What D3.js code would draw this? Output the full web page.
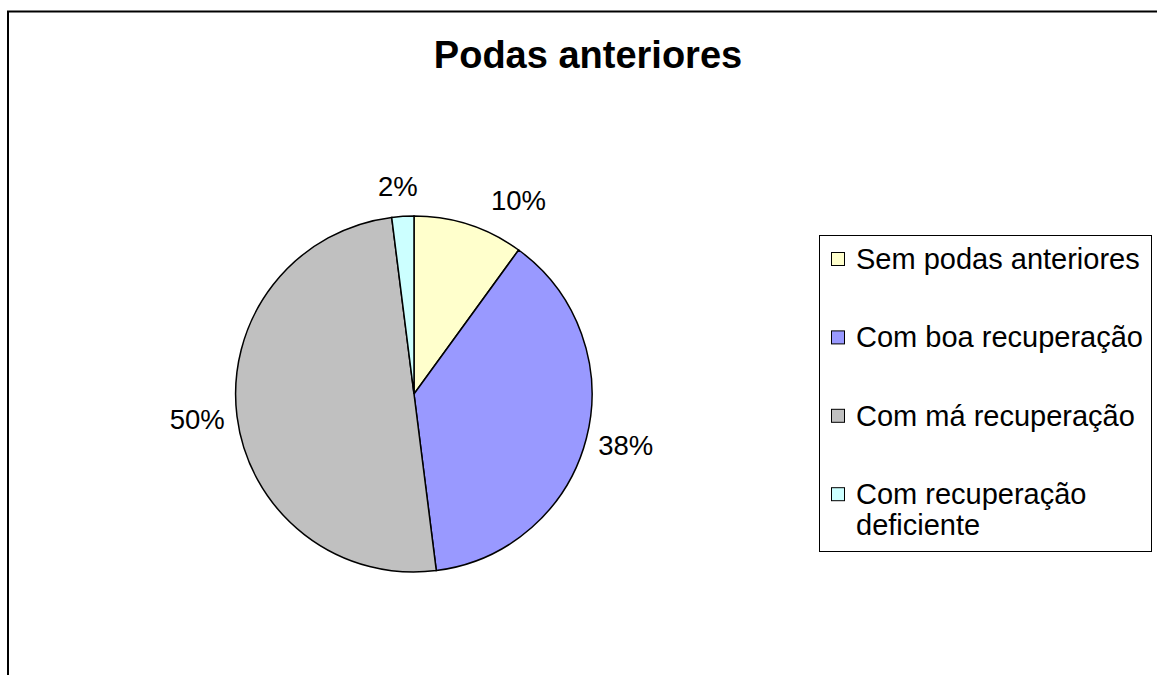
<!DOCTYPE html>
<html lang="pt">
<head>
    <meta charset="UTF-8">
    <script src="https://d3js.org/d3.v7.min.js"></script>
    <title>Podas anteriores</title>
    <style>
        body { margin: 0; background: #fff; }
        svg { font-family: "Liberation Sans", Arial, sans-serif; }
    </style>
</head>
<body>
<svg width="1157" height="675" id="chart"></svg>
<script>
    // chart data
    const categories = ["Sem podas anteriores", "Com boa recuperação", "Com má recuperação", "Com recuperação deficiente"];
    const values = [10, 38, 50, 2];
    const valueLabels = ["10%", "38%", "50%", "2%"];
    const colors = ["#FFFFCC", "#9999FF", "#C0C0C0", "#CCFFFF"];
    // legend lines (last item wraps on two lines)
    const legendLines = [["Sem podas anteriores"], ["Com boa recuperação"], ["Com má recuperação"], ["Com recuperação", "deficiente"]];

    const svg = d3.select("#chart");

    // outer chart frame, runs off the right and bottom edge
    svg.append("rect")
        .attr("x", 8)
        .attr("y", 11.5)
        .attr("width", 1300)
        .attr("height", 800)
        .style("fill", "none")
        .style("stroke", "#000")
        .style("stroke-width", 2);

    // title
    svg.append("text")
        .attr("x", 588)
        .attr("y", 68)
        .attr("text-anchor", "middle")
        .style("font-size", "38px")
        .style("font-weight", "bold")
        .text("Podas anteriores");

    // pie
    const cx = 414, cy = 394, radius = 178;
    const g = svg.append("g").attr("transform", `translate(${cx},${cy})`);

    const pie = d3.pie().sort(null).value(d => d);
    const arcs = pie(values);
    const arc = d3.arc().innerRadius(0).outerRadius(radius);

    g.selectAll("path")
        .data(arcs)
        .enter()
        .append("path")
        .attr("d", arc)
        .style("fill", (d, i) => colors[i])
        .style("stroke", "#000")
        .style("stroke-width", 1.5);

    // labels just outside the slice, box pushed out along the mid angle
    // (small nudges where Excel moved a label off its mid angle)
    const labelSize = 27.5;
    const gap = 13;
    const nudgeX = [37, 0, 0, -3];
    const nudgeY = [0, 0, 0, -4];
    g.selectAll("text.lbl")
        .data(arcs)
        .enter()
        .append("text")
        .attr("class", "lbl")
        .style("font-size", labelSize + "px")
        .text((d, i) => valueLabels[i])
        .each(function(d, i) {
            const t = d3.select(this);
            const w = this.getComputedTextLength();
            const h = labelSize * 0.95;
            const a = (d.startAngle + d.endAngle) / 2;
            const px = Math.sin(a) * (radius + gap);
            const py = -Math.cos(a) * (radius + gap);
            const bx = px + Math.sin(a) * w / 2 + nudgeX[i];
            const by = py - Math.cos(a) * h / 2 + nudgeY[i];
            t.attr("x", bx).attr("y", by + labelSize * 0.36).attr("text-anchor", "middle");
        });

    // legend
    const legend = svg.append("g");
    legend.append("rect")
        .attr("x", 819.5)
        .attr("y", 235.5)
        .attr("width", 332)
        .attr("height", 316)
        .style("fill", "#fff")
        .style("stroke", "#000")
        .style("stroke-width", 1);

    const legendSize = 29;
    const firstBase = 269, step = 78.4, lineGap = 31;

    legendLines.forEach((lines, i) => {
        const base = firstBase + i * step;
        legend.append("rect")
            .attr("x", 831.5)
            .attr("y", base - 16.5)
            .attr("width", 13)
            .attr("height", 13)
            .style("fill", colors[i])
            .style("stroke", "#000")
            .style("stroke-width", 1);
        lines.forEach((line, j) => {
            legend.append("text")
                .attr("x", 856)
                .attr("y", base + j * lineGap)
                .style("font-size", legendSize + "px")
                .text(line);
        });
    });
</script>
</body>
</html>
